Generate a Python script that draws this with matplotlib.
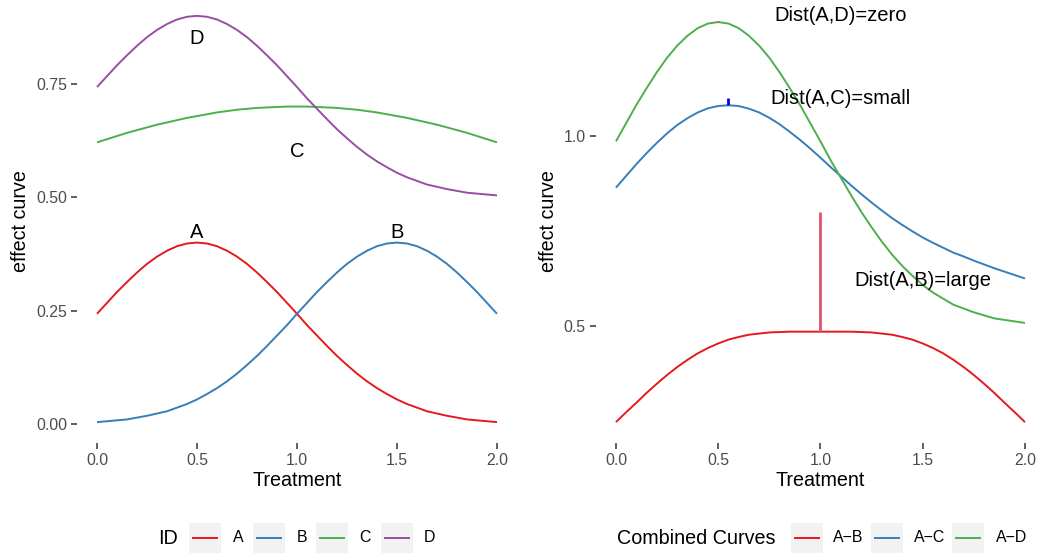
import matplotlib
matplotlib.use('Agg')
import matplotlib.pyplot as plt
from matplotlib.patches import Rectangle

plt.rcParams['font.family'] = ['Liberation Sans', 'DejaVu Sans']

# ---------------- data ----------------
treatment = [0.00, 0.05, 0.10, 0.15, 0.20, 0.25, 0.30, 0.35, 0.40, 0.45,
             0.50, 0.55, 0.60, 0.65, 0.70, 0.75, 0.80, 0.85, 0.90, 0.95,
             1.00, 1.05, 1.10, 1.15, 1.20, 1.25, 1.30, 1.35, 1.40, 1.45,
             1.50, 1.55, 1.60, 1.65, 1.70, 1.75, 1.80, 1.85, 1.90, 1.95, 2.00]

curve_A = [0.243, 0.267, 0.291, 0.313, 0.334, 0.353, 0.369, 0.382, 0.392, 0.398,
           0.400, 0.398, 0.392, 0.382, 0.369, 0.353, 0.334, 0.313, 0.291, 0.267,
           0.243, 0.218, 0.195, 0.172, 0.150, 0.130, 0.111, 0.094, 0.079, 0.066,
           0.054, 0.044, 0.036, 0.028, 0.023, 0.018, 0.014, 0.010, 0.008, 0.006, 0.004]
curve_B = [0.004, 0.006, 0.008, 0.010, 0.014, 0.018, 0.023, 0.028, 0.036, 0.044,
           0.054, 0.066, 0.079, 0.094, 0.111, 0.130, 0.150, 0.172, 0.195, 0.218,
           0.243, 0.267, 0.291, 0.313, 0.334, 0.353, 0.369, 0.382, 0.392, 0.398,
           0.400, 0.398, 0.392, 0.382, 0.369, 0.353, 0.334, 0.313, 0.291, 0.267, 0.243]
curve_C = [0.621, 0.628, 0.635, 0.642, 0.648, 0.654, 0.660, 0.665, 0.670, 0.675,
           0.679, 0.683, 0.687, 0.690, 0.693, 0.695, 0.697, 0.698, 0.699, 0.700,
           0.700, 0.700, 0.699, 0.698, 0.697, 0.695, 0.693, 0.690, 0.687, 0.683,
           0.679, 0.675, 0.670, 0.665, 0.660, 0.654, 0.648, 0.642, 0.635, 0.628, 0.621]
curve_D = [0.743, 0.767, 0.791, 0.813, 0.834, 0.853, 0.869, 0.882, 0.892, 0.898,
           0.900, 0.898, 0.892, 0.882, 0.869, 0.853, 0.834, 0.813, 0.791, 0.767,
           0.743, 0.718, 0.695, 0.672, 0.650, 0.630, 0.611, 0.594, 0.579, 0.566,
           0.554, 0.544, 0.536, 0.528, 0.523, 0.518, 0.514, 0.510, 0.508, 0.506, 0.504]

combo_AB = [0.247, 0.273, 0.298, 0.324, 0.348, 0.371, 0.392, 0.411, 0.428, 0.442,
            0.454, 0.464, 0.471, 0.477, 0.480, 0.483, 0.484, 0.485, 0.485, 0.485,
            0.485, 0.485, 0.485, 0.485, 0.484, 0.483, 0.480, 0.477, 0.471, 0.464,
            0.454, 0.442, 0.428, 0.411, 0.392, 0.371, 0.348, 0.324, 0.298, 0.273, 0.247]
combo_AC = [0.864, 0.895, 0.926, 0.955, 0.982, 1.007, 1.029, 1.047, 1.062, 1.073,
            1.079, 1.081, 1.079, 1.072, 1.062, 1.048, 1.031, 1.011, 0.990, 0.967,
            0.943, 0.918, 0.894, 0.870, 0.847, 0.825, 0.804, 0.784, 0.766, 0.749,
            0.733, 0.719, 0.706, 0.693, 0.683, 0.672, 0.662, 0.652, 0.643, 0.634, 0.625]
combo_AD = [0.986, 1.034, 1.082, 1.126, 1.168, 1.206, 1.238, 1.264, 1.284, 1.296,
            1.300, 1.296, 1.284, 1.264, 1.238, 1.206, 1.168, 1.126, 1.082, 1.034,
            0.986, 0.936, 0.890, 0.844, 0.800, 0.760, 0.722, 0.688, 0.658, 0.632,
            0.608, 0.588, 0.572, 0.556, 0.546, 0.536, 0.528, 0.520, 0.516, 0.512, 0.508]

ids = ['A', 'B', 'C', 'D']
id_label_x = [0.5, 1.5, 1.0, 0.5]
id_label_y = [0.422, 0.422, 0.600, 0.850]

combo_names = ['A\u2212B', 'A\u2212C', 'A\u2212D']

dist_x = [1.0, 0.55, 0.5]
dist_lo = [0.485, 1.081, 1.300]
dist_hi = [0.800, 1.100, 1.304]
dist_text = ['Dist(A,B)=large', 'Dist(A,C)=small', 'Dist(A,D)=zero']
dist_text_x = [1.50, 1.10, 1.10]
dist_text_y = [0.621, 1.098, 1.318]

left_yticks = [0.00, 0.25, 0.50, 0.75]
right_yticks = [0.5, 1.0]
xticks = [0.0, 0.5, 1.0, 1.5, 2.0]

# ---------------- styling ----------------
id_colors = ['#E41A1C', '#377EB8', '#4DAF4A', '#984EA3']
combo_colors = ['#E41A1C', '#377EB8', '#4DAF4A']
dist_colors = ['#DF536B', '#0000FF', '#DF536B']

W, H = 1039, 553
fig = plt.figure(figsize=(W / 100, H / 100), dpi=100)
fig.patch.set_facecolor('white')


def px_axes(x0, y0, x1, y1):
    return fig.add_axes([x0 / W, 1 - y1 / H, (x1 - x0) / W, (y1 - y0) / H])


def style(ax):
    for s in ax.spines.values():
        s.set_visible(False)
    ax.set_facecolor('none')
    ax.tick_params(length=4.3, width=1.1, color='#333333', labelcolor='#4D4D4D',
                   labelsize=11.4, pad=2.9)
    ax.set_xticks(xticks)
    ax.set_xticklabels([f'{t:.1f}' for t in xticks])
    ax.set_xlabel('Treatment', fontsize=14.2, labelpad=2)
    ax.set_ylabel('effect curve', fontsize=14.2, labelpad=4)


LW = 1.4

# Left panel
axL = px_axes(77, 0, 517, 443)
curves = [curve_A, curve_B, curve_C, curve_D]
for name, ys, col in zip(ids, curves, id_colors):
    axL.plot(treatment, ys, color=col, lw=LW, solid_capstyle='butt')
for name, lx, ly in zip(ids, id_label_x, id_label_y):
    axL.text(lx, ly, name, ha='center', va='center', fontsize=14.5, color='black')
axL.set_xlim(-0.1, 2.1)
axL.set_ylim(-0.042, 0.935)
style(axL)
axL.set_yticks(left_yticks)
axL.set_yticklabels([f'{t:.2f}' for t in left_yticks])

# Right panel
axR = px_axes(595.5, 0, 1045.4, 443)
combos = [combo_AB, combo_AC, combo_AD]
for name, ys, col in zip(combo_names, combos, combo_colors):
    axR.plot(treatment, ys, color=col, lw=LW, solid_capstyle='butt')
for x, lo, hi, col in zip(dist_x, dist_lo, dist_hi, dist_colors):
    axR.vlines(x, lo, hi, color=col, lw=2.0)
for t, tx, ty in zip(dist_text, dist_text_x, dist_text_y):
    axR.text(tx, ty, t, ha='center', va='center', fontsize=14.5, color='black')
axR.set_xlim(-0.1, 2.1)
axR.set_ylim(0.192, 1.358)
style(axR)
axR.set_yticks(right_yticks)
axR.set_yticklabels([f'{t:.1f}' for t in right_yticks])

# Legends (drawn in pixel space)
leg = fig.add_axes([0, 0, 1, 1])
leg.set_xlim(0, W)
leg.set_ylim(H, 0)
leg.axis('off')
leg.patch.set_visible(False)

ycen = 538
kw, kh = 32, 31


def draw_legend(title, title_x, names, colors, key_x, lab_x):
    leg.text(title_x, ycen, title, ha='left', va='center', fontsize=14.2, color='black')
    for n, c, kx, lx in zip(names, colors, key_x, lab_x):
        leg.add_patch(Rectangle((kx, ycen - kh / 2), kw, kh, facecolor='#F2F2F2',
                                edgecolor='none'))
        leg.plot([kx + 3, kx + kw - 3], [ycen, ycen], color=c, lw=LW,
                 solid_capstyle='butt')
        leg.text(lx, ycen, n, ha='left', va='center', fontsize=11.4, color='black')


draw_legend('ID', 158, ids, id_colors, [189, 253, 316, 381], [233, 297, 359, 424])
draw_legend('Combined Curves', 617, combo_names, combo_colors, [790.5, 870.5, 951.5],
            [833, 914, 995.5])

fig.savefig('out.png', dpi=100, facecolor='white')
